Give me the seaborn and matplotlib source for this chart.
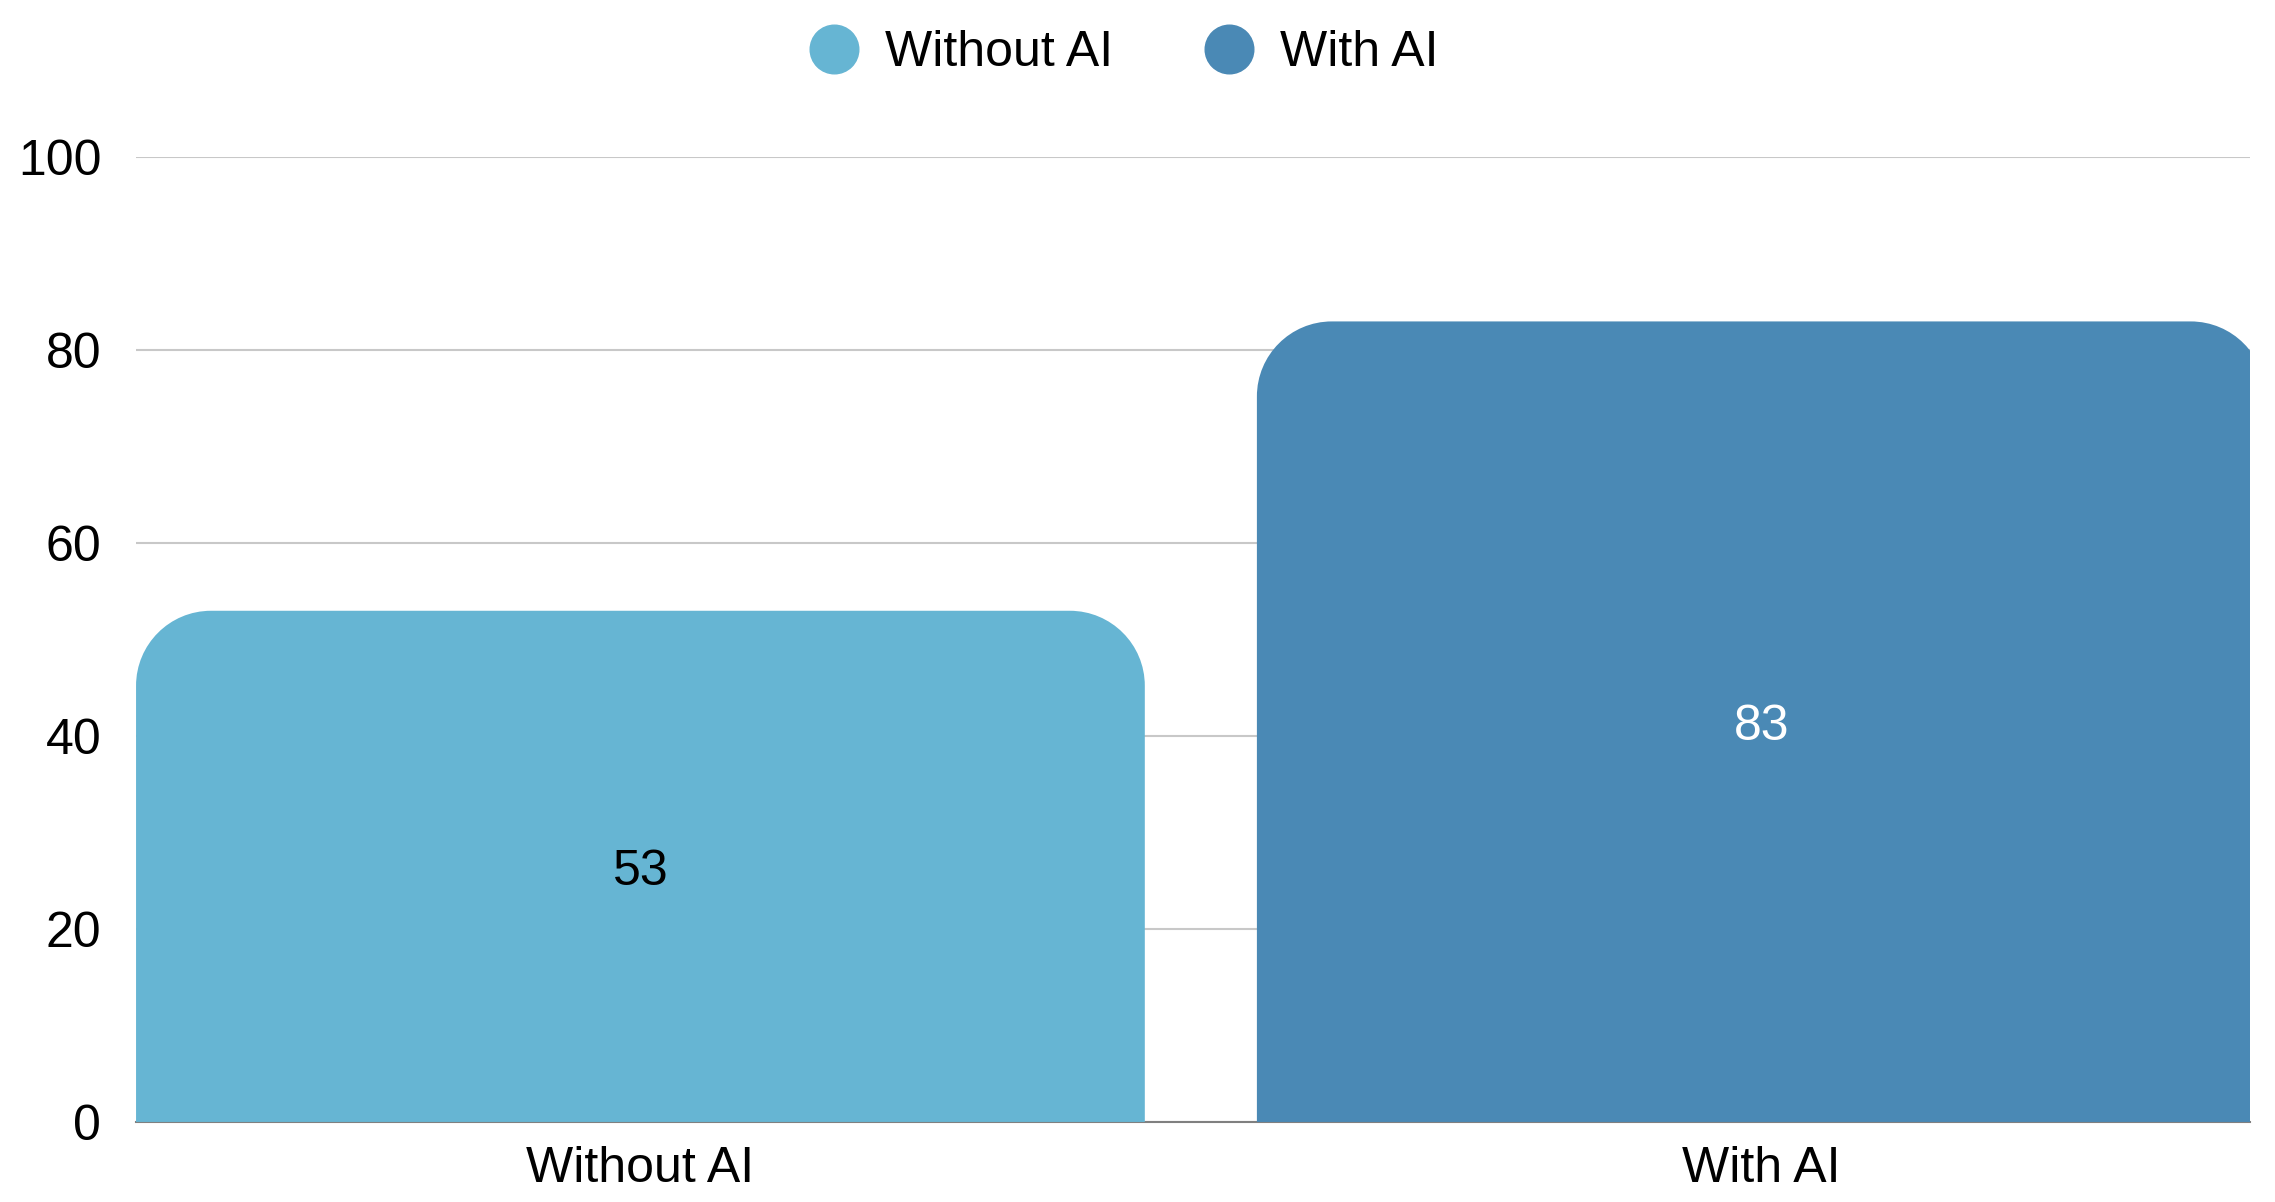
import matplotlib
matplotlib.use("Agg")
import matplotlib.pyplot as plt
import seaborn as sns
import numpy as np
from matplotlib.path import Path
from matplotlib.patches import PathPatch
from matplotlib.lines import Line2D

# data
categories = ["Without AI", "With AI"]
values = [53, 83]
colors = ["#66B5D3", "#4A89B5"]
label_colors = ["black", "white"]
yticks = [0, 20, 40, 60, 80, 100]

sns.set_theme(style="white")
plt.rcParams['font.family'] = ['Liberation Sans', 'DejaVu Sans']

fig = plt.figure(figsize=(22.75, 12.02), dpi=100)
ax = fig.add_axes([0.0598, 0.0666, 0.9292, 0.8024])

sns.barplot(x=categories, y=values, hue=categories, palette=colors,
            saturation=1, width=0.9, legend=False, ax=ax, zorder=2)

ax.set_xlim(-0.45, 1.436)
ax.set_ylim(0, 100)
ax.set_yticks(yticks)
ax.grid(axis="y", color="#c8c8c8", linewidth=1.5, zorder=0)
ax.set_axisbelow(True)
for s in ["top", "right", "left"]:
    ax.spines[s].set_visible(False)
ax.spines["bottom"].set_color("#808080")
ax.spines["bottom"].set_linewidth(1.5)
ax.spines["bottom"].set_zorder(1)
ax.tick_params(axis="both", length=0, labelsize=36, colors="black")
ax.tick_params(axis="y", pad=25)
ax.tick_params(axis="x", pad=17)
ax.set_xlabel("")
ax.set_ylabel("")

# rounded top corners (radius in pixels -> data units)
fig.canvas.draw()
p0 = ax.transData.transform((0, 0))
p1 = ax.transData.transform((1, 1))
rx = 75 / (p1[0] - p0[0])
ry = 75 / (p1[1] - p0[1])
k = 0.5523
for i, bar in enumerate(list(ax.patches)):
    x0, y0 = bar.get_x(), bar.get_y()
    w, h = bar.get_width(), bar.get_height()
    x1, y1 = x0 + w, y0 + h
    verts = [
        (x0, y0), (x1, y0), (x1, y1 - ry),
        (x1, y1 - ry + k * ry), (x1 - rx + k * rx, y1), (x1 - rx, y1),
        (x0 + rx, y1),
        (x0 + rx - k * rx, y1), (x0, y1 - ry + k * ry), (x0, y1 - ry),
        (x0, y0),
    ]
    codes = [Path.MOVETO, Path.LINETO, Path.LINETO,
             Path.CURVE4, Path.CURVE4, Path.CURVE4,
             Path.LINETO,
             Path.CURVE4, Path.CURVE4, Path.CURVE4,
             Path.CLOSEPOLY]
    col = bar.get_facecolor()
    bar.set_visible(False)
    ax.add_patch(PathPatch(Path(verts, codes), facecolor=col,
                           edgecolor="none", zorder=2))
    ax.text(x0 + w / 2, h / 2 - 0.6, str(values[i]), ha="center", va="center",
            fontsize=36, color=label_colors[i], zorder=3)

handles = [Line2D([], [], marker="o", linestyle="none", markersize=35,
                  markerfacecolor=c, markeredgecolor=c) for c in colors]
fig.legend(handles, categories, loc="center", bbox_to_anchor=(0.494, 0.9555),
           ncol=2, frameon=False, fontsize=36, labelcolor="black",
           handlelength=1.0, handletextpad=0.52, columnspacing=1.82)

fig.savefig("out.png", dpi=100)
